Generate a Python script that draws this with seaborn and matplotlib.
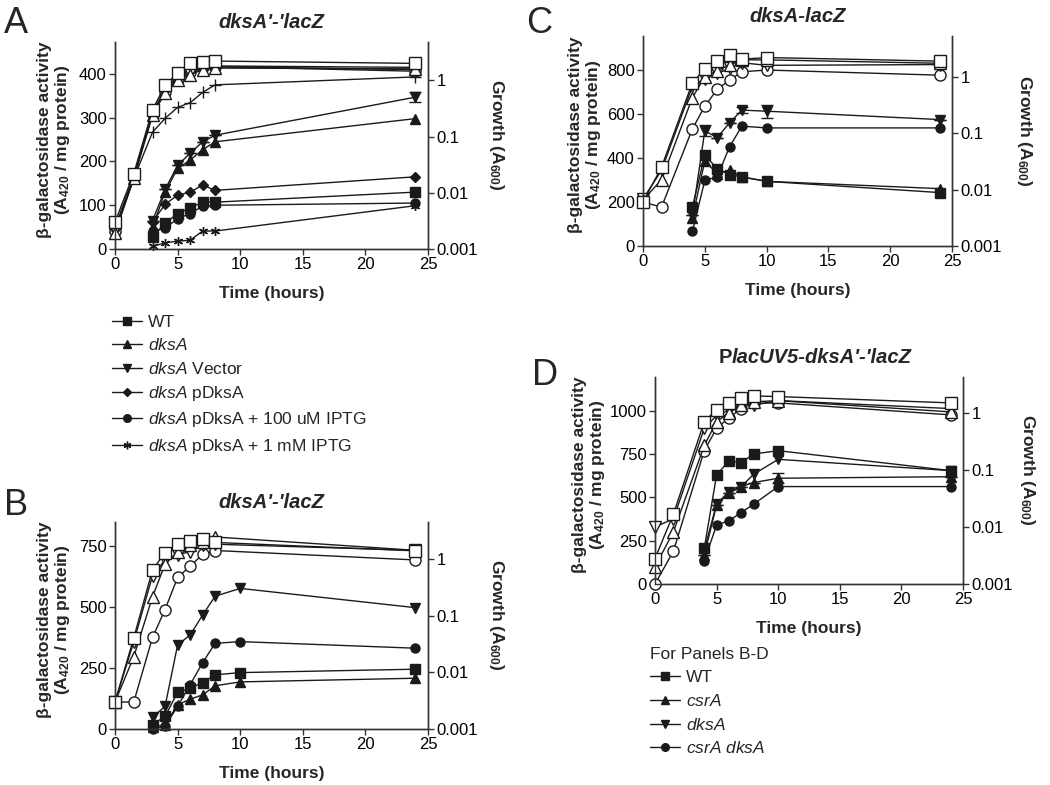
import matplotlib
matplotlib.use("Agg")
import matplotlib.pyplot as plt
from matplotlib.lines import Line2D
import seaborn as sns

sns.set_theme(style="ticks")
plt.rcParams['font.family'] = ['Liberation Sans', 'DejaVu Sans']
plt.rcParams['mathtext.fontset'] = 'custom'
plt.rcParams['mathtext.rm'] = 'Liberation Sans'
plt.rcParams['mathtext.it'] = 'Liberation Sans:italic'
plt.rcParams['mathtext.bf'] = 'Liberation Sans:bold'

# ---- panel A: dksA'-'lacZ, complementation ----
A_STRAINS = ["WT", "dksA", "dksA Vector", "dksA pDksA",
             "dksA pDksA + 100 uM IPTG", "dksA pDksA + 1 mM IPTG"]
A_LABELS = ["WT", r"$\mathit{dksA}$", r"$\mathit{dksA}$ Vector",
            r"$\mathit{dksA}$ pDksA", r"$\mathit{dksA}$ pDksA + 100 uM IPTG",
            r"$\mathit{dksA}$ pDksA + 1 mM IPTG"]
A_T_GROWTH = [0, 1.5, 3, 4, 5, 6, 7, 8, 24]
A_T_ACT = [3, 4, 5, 6, 7, 8, 24]
A_GROWTH_WT = [0.0030, 0.022, 0.30, 0.82, 1.34, 2.0, 2.1, 2.2, 2.0]
A_GROWTH_DKSA = [0.0019, 0.018, 0.24, 0.60, 1.0, 1.25, 1.55, 1.65, 1.6]
A_GROWTH_VEC = [0.0022, 0.019, 0.26, 0.65, 1.1, 1.35, 1.65, 1.75, 1.55]
A_GROWTH_PDKSA = [0.0024, 0.020, 0.27, 0.70, 1.15, 1.5, 1.75, 1.8, 1.7]
A_GROWTH_100 = [0.0021, 0.019, 0.25, 0.62, 1.05, 1.4, 1.7, 1.75, 1.45]
A_GROWTH_1MM = [0.0020, 0.018, 0.12, 0.21, 0.33, 0.40, 0.61, 0.83, 1.15]
A_ACT_WT = [27, 59, 81, 94, 107, 107, 130]
A_ACT_DKSA = [50, 130, 184, 203, 227, 245, 298]
A_ACT_VEC = [65, 136, 191, 219, 245, 260, 347]
A_ACT_PDKSA = [62, 102, 123, 130, 146, 134, 165]
A_ACT_100 = [40, 48, 69, 81, 98, 100, 105]
A_ACT_1MM = [6, 14, 18, 20, 41, 41, 99]
A_ERR_VEC = [0, 0, 0, 0, 0, 0, 12]

# ---- panels B-D: WT, csrA, dksA, csrA dksA ----
BD_STRAINS = ["WT", "csrA", "dksA", "csrA dksA"]
BD_LABELS = ["WT", r"$\mathit{csrA}$", r"$\mathit{dksA}$",
             r"$\mathit{csrA\ dksA}$"]

B_T_GROWTH = [0, 1.5, 3, 4, 5, 6, 7, 8, 24]
B_T_ACT = [3, 4, 5, 6, 7, 8, 10, 24]
B_GROWTH_WT = [0.0030, 0.041, 0.66, 1.32, 1.9, 2.15, 2.28, 2.0, 1.42]
B_GROWTH_CSRA = [0.0030, 0.019, 0.22, 0.83, 1.37, 1.78, 2.0, 2.5, 1.45]
B_GROWTH_DKSA = [0.0030, 0.035, 0.52, 0.98, 1.2, 1.38, 1.78, 1.86, 1.45]
B_GROWTH_DBL = [0.0030, 0.0030, 0.042, 0.13, 0.48, 0.76, 1.23, 1.44, 0.98]
B_ACT_WT = [18, 52, 150, 167, 190, 222, 231, 245]
B_ACT_CSRA = [7, 18, 99, 122, 140, 177, 193, 208]
B_ACT_DKSA = [48, 93, 344, 385, 467, 544, 576, 497]
B_ACT_DBL = [1, 11, 93, 181, 272, 351, 358, 331]

C_T_GROWTH = [0, 1.5, 4, 5, 6, 7, 8, 10, 24]
C_T_ACT = [4, 5, 6, 7, 8, 10, 24]
C_GROWTH_WT = [0.0060, 0.025, 0.79, 1.37, 1.91, 2.4, 2.05, 2.2, 1.9]
C_GROWTH_CSRA = [0.0065, 0.015, 0.43, 1.0, 1.29, 1.62, 2.0, 2.0, 1.74]
C_GROWTH_DKSA = [0.0068, 0.022, 0.68, 0.93, 1.15, 1.41, 1.78, 1.6, 1.65]
C_GROWTH_DBL = [0.0060, 0.0049, 0.12, 0.30, 0.60, 0.87, 1.23, 1.32, 1.07]
C_ACT_WT = [178, 413, 352, 325, 314, 294, 243]
C_ACT_CSRA = [129, 386, 329, 345, 314, 294, 261]
C_ACT_DKSA = [140, 524, 493, 560, 618, 613, 575]
C_ACT_DBL = [67, 299, 314, 451, 545, 537, 537]
C_ERR_DKSA = [0, 25, 0, 0, 15, 30, 0]

D_T_GROWTH = [0, 1.5, 4, 5, 6, 7, 8, 10, 24]
D_T_ACT = [4, 5, 6, 7, 8, 10, 24]
D_GROWTH_WT = [0.0028, 0.017, 0.71, 1.15, 1.48, 1.82, 2.0, 1.95, 1.51]
D_GROWTH_CSRA = [0.0020, 0.0083, 0.27, 0.71, 1.0, 1.38, 1.58, 1.65, 1.05]
D_GROWTH_DKSA = [0.010, 0.014, 0.54, 0.91, 1.12, 1.48, 1.38, 1.66, 1.2]
D_GROWTH_DBL = [0.0010, 0.0038, 0.22, 0.54, 0.83, 1.2, 1.48, 1.51, 0.93]
D_ACT_WT = [206, 629, 710, 700, 750, 769, 654]
D_ACT_CSRA = [167, 456, 523, 562, 585, 610, 619]
D_ACT_DKSA = [196, 462, 533, 562, 633, 719, 654]
D_ACT_DBL = [133, 340, 365, 412, 460, 562, 562]
D_ERR_CSRA = [0, 0, 0, 0, 0, 28, 0]

X_TICKS = [0, 5, 10, 15, 20, 25]
GROWTH_TICKS = [0.001, 0.01, 0.1, 1]
GROWTH_TICKLABELS = ["0.001", "0.01", "0.1", "1"]

A_MARKERS = {"WT": "s", "dksA": "^", "dksA Vector": "v", "dksA pDksA": "D",
             "dksA pDksA + 100 uM IPTG": "o", "dksA pDksA + 1 mM IPTG": (6, 2, 0)}
A_OPEN_MARKERS = dict(A_MARKERS, **{"dksA pDksA + 1 mM IPTG": "+"})
BD_MARKERS = {"WT": "s", "csrA": "^", "dksA": "v", "csrA dksA": "o"}

INK = "#1a1a1a"
W, H = 1050, 785
FS_TICK = 12
FS_LABEL = 12.5
FS_TITLE = 14.5


def ms_for(marker, filled):
    if marker == "D":
        return 5.5 if filled else 6.5
    return 6.5 if filled else 8


def plot_series(ax, t, y, marker, filled):
    sns.lineplot(x=t, y=y, ax=ax, color=INK, marker=marker,
                 markersize=ms_for(marker, filled),
                 mfc=INK if filled else "white", mec=INK, mew=1.0,
                 lw=1.0, estimator=None, legend=False, clip_on=False)


def make_axes(rect):
    x0, y0, x1, y1 = rect
    ax = fig.add_axes([x0 / W, 1 - y1 / H, (x1 - x0) / W, (y1 - y0) / H])
    ax2 = ax.twinx()
    ax2.set_yscale("log")
    return ax, ax2


def finish_axes(ax, ax2, ylim, yticks, gtop, title, lab_x, grow_x):
    ax.set_xlim(0, 25)
    ax.set_xticks(X_TICKS)
    ax.set_ylim(*ylim)
    ax.set_yticks(yticks)
    ax2.set_ylim(0.001, gtop)
    ax2.set_yticks(GROWTH_TICKS)
    ax2.set_yticklabels(GROWTH_TICKLABELS)
    ax2.minorticks_off()
    for a in (ax, ax2):
        a.spines["top"].set_visible(False)
        for s in a.spines.values():
            s.set_color("#333333")
            s.set_linewidth(1.0)
        a.tick_params(direction="out", length=4, width=1, labelsize=FS_TICK,
                      color="#333333", labelcolor="black", pad=2)
    ax.set_xlabel("Time (hours)", fontsize=FS_LABEL, fontweight="bold", labelpad=10)
    ax.set_ylabel("β-galactosidase activity\n" + r"(A$_{\mathbf{420}}$ / mg protein)",
                  fontsize=FS_LABEL, fontweight="bold", linespacing=1.05)
    ax.yaxis.set_label_coords(lab_x, 0.53)
    ax2.set_ylabel("")
    ax2.text(grow_x, 0.55, r"Growth (A$_{\mathbf{600}}$)", transform=ax2.transAxes,
             fontsize=FS_LABEL, fontweight="bold", rotation=270,
             ha="center", va="center")
    if title:
        ax.set_title(title, fontsize=FS_TITLE, fontweight="bold",
                     fontstyle="italic", pad=10)


fig = plt.figure(figsize=(W / 100, H / 100), dpi=100)

# Panel A
axA, axA2 = make_axes((115, 42, 428, 249))
a_growth = [A_GROWTH_WT, A_GROWTH_DKSA, A_GROWTH_VEC, A_GROWTH_PDKSA, A_GROWTH_100, A_GROWTH_1MM]
a_act = [A_ACT_WT, A_ACT_DKSA, A_ACT_VEC, A_ACT_PDKSA, A_ACT_100, A_ACT_1MM]
for name, act in zip(A_STRAINS, a_act):
    plot_series(axA, A_T_ACT, act, A_MARKERS[name], True)
axA.errorbar(A_T_ACT, A_ACT_VEC, yerr=A_ERR_VEC, fmt="none", ecolor=INK,
             elinewidth=1, capsize=4, clip_on=False)
for name, g in zip(A_STRAINS[::-1], a_growth[::-1]):
    plot_series(axA2, A_T_GROWTH, g, A_OPEN_MARKERS[name], False)
finish_axes(axA, axA2, (0, 473), [0, 100, 200, 300, 400], 4.8, "dksA'-'lacZ",
            -0.137, 1.22)

# Panels B-D
panels = [
    ((115, 522, 428, 729), (0, 848), [0, 250, 500, 750], 4.6, "dksA'-'lacZ", -0.137, 1.22,
     B_T_GROWTH, [B_GROWTH_WT, B_GROWTH_CSRA, B_GROWTH_DKSA, B_GROWTH_DBL],
     B_T_ACT, [B_ACT_WT, B_ACT_CSRA, B_ACT_DKSA, B_ACT_DBL], None, None),
    ((643, 36, 952, 246), (0, 955), [0, 200, 400, 600, 800], 5.3, "dksA-lacZ", -0.129, 1.236,
     C_T_GROWTH, [C_GROWTH_WT, C_GROWTH_CSRA, C_GROWTH_DKSA, C_GROWTH_DBL],
     C_T_ACT, [C_ACT_WT, C_ACT_CSRA, C_ACT_DKSA, C_ACT_DBL], C_ACT_DKSA, C_ERR_DKSA),
    ((655, 377, 963, 584), (0, 1194), [0, 250, 500, 750, 1000], 4.3, None, -0.156, 1.211,
     D_T_GROWTH, [D_GROWTH_WT, D_GROWTH_CSRA, D_GROWTH_DKSA, D_GROWTH_DBL],
     D_T_ACT, [D_ACT_WT, D_ACT_CSRA, D_ACT_DKSA, D_ACT_DBL], D_ACT_CSRA, D_ERR_CSRA),
]
for rect, ylim, yticks, gtop, title, lab_x, grow_x, tg, growth, ta, act, ey, ee in panels:
    ax, ax2 = make_axes(rect)
    for name, a in zip(BD_STRAINS, act):
        plot_series(ax, ta, a, BD_MARKERS[name], True)
    if ey is not None:
        ax.errorbar(ta, ey, yerr=ee, fmt="none", ecolor=INK, elinewidth=1,
                    capsize=4, clip_on=False)
    for name, g in zip(BD_STRAINS[::-1], growth[::-1]):
        plot_series(ax2, tg, g, BD_MARKERS[name], False)
    finish_axes(ax, ax2, ylim, yticks, gtop, title, lab_x, grow_x)

# Panel D title: upright "P" then bold italic rest
fig.canvas.draw()
renderer = fig.canvas.get_renderer()
ty = 1 - 363 / H
t1 = fig.text(0, ty, "P", fontsize=FS_TITLE, fontweight="bold", va="baseline")
t2 = fig.text(0, ty, "lacUV5-dksA'-'lacZ", fontsize=FS_TITLE, fontweight="bold",
              fontstyle="italic", va="baseline")
w1 = t1.get_window_extent(renderer).width
w2 = t2.get_window_extent(renderer).width
cx = 815
start = cx - (w1 + w2) / 2
t1.set_x(start / W)
t2.set_x((start + w1) / W)

# Panel letters
for letter, x, y in [("A", 4, 33), ("B", 4, 515), ("C", 526, 33), ("D", 532, 385)]:
    fig.text(x / W, 1 - y / H, letter, fontsize=26, va="baseline", ha="left")

# Legends
a_handles = [Line2D([], [], color=INK, lw=1, marker=A_MARKERS[n], mfc=INK, mec=INK,
                    ms=4 if A_MARKERS[n] == "D" else 5.5, mew=1) for n in A_STRAINS]
fig.legend(a_handles, A_LABELS, loc="upper left", bbox_to_anchor=(112 / W, 1 - 315 / H),
           frameon=False, fontsize=FS_LABEL, handlelength=1.75, handletextpad=0.3,
           labelspacing=0.42, borderpad=0, borderaxespad=0)

bd_handles = [Line2D([], [], color=INK, lw=1, marker=BD_MARKERS[n], mfc=INK, mec=INK,
                     ms=5.5, mew=1) for n in BD_STRAINS]
fig.legend(bd_handles, BD_LABELS, loc="upper left",
           bbox_to_anchor=(650 / W, 1 - 647 / H), frameon=False, fontsize=FS_LABEL,
           handlelength=1.75, handletextpad=0.3, labelspacing=0.45,
           borderpad=0, borderaxespad=0, title="For Panels B-D",
           title_fontsize=FS_LABEL, alignment="left")

fig.savefig("out.png", dpi=100)
